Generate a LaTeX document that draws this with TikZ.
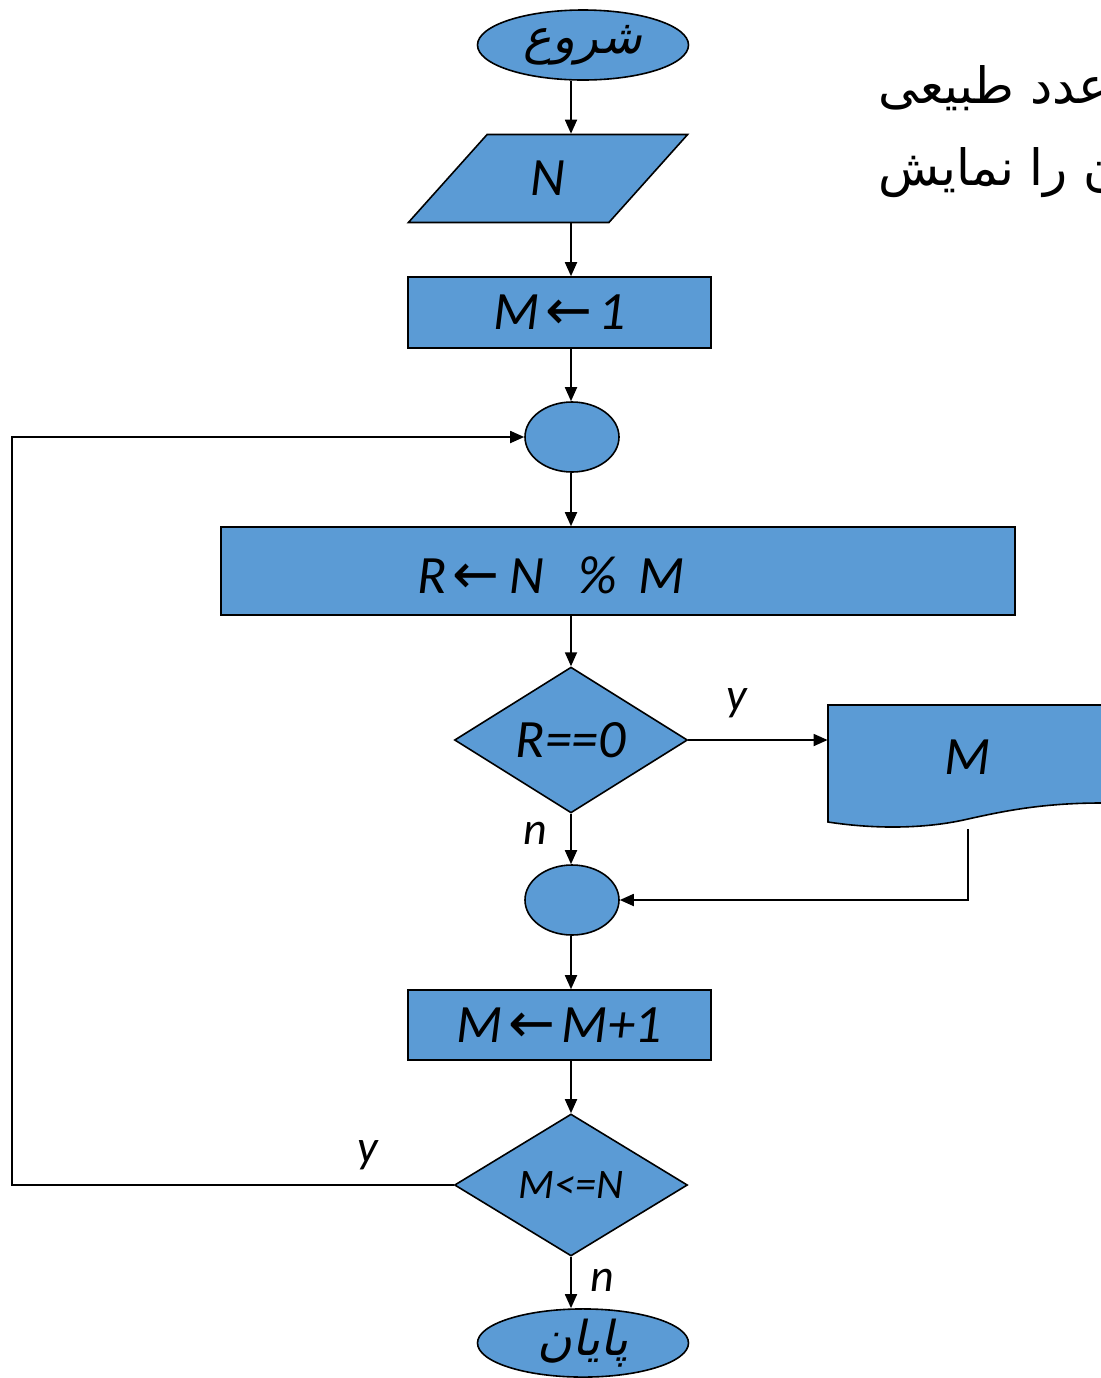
\documentclass[tikz,border=0pt]{standalone}
\usepackage{fontspec}
\setmainfont{Carlito}
\newfontfamily\fa[Script=Arabic]{DejaVu Sans}
\newfontfamily\faslant[Script=Arabic,FakeSlant=0.2]{DejaVu Sans}
\newfontfamily\symf{DejaVu Sans}
\TeXXeTstate=1
\usetikzlibrary{shapes.geometric,arrows.meta}
\definecolor{fc}{HTML}{5B9BD5}
\tikzset{
  blk/.style={draw=black, line width=0.8pt, fill=fc, inner sep=0pt},
  conn/.style={line width=0.9pt, -{Triangle[length=7pt,width=6pt]}},
  lbl/.style={font=\fontsize{27}{30}\selectfont\itshape},
  sml/.style={font=\fontsize{21}{24}\selectfont\itshape},
  yn/.style={font=\fontsize{23}{26}\selectfont\itshape},
  fatxt/.style={font=\fontsize{24}{28}\selectfont\faslant},
  ttl/.style={font=\fontsize{25}{30}\selectfont\fa, anchor=west, inner sep=0pt}
}
\newcommand{\larr}{{\symf\fontsize{28}{30}\selectfont ←}}
\begin{document}
\begin{tikzpicture}[x=0.5pt,y=-0.5pt]
\useasboundingbox (0,0) rectangle (1101,1378);
\coordinate (sp) at (571,0);
% nodes
\node[blk, ellipse, minimum width=105.5pt, minimum height=35pt, fatxt] (start) at (583,45) {\beginR شروع\endR};
\node[blk, trapezium, trapezium left angle=57, trapezium right angle=123, trapezium stretches=true, minimum width=140pt, minimum height=44pt, lbl] (inp) at (548,178.5) {N};
\node[blk, rectangle, minimum width=151.5pt, minimum height=35.5pt, lbl] (r1) at (559.5,312.5) {M\hspace{3pt}\larr\hspace{3pt}1};
\node[blk, ellipse, minimum width=47pt, minimum height=35pt] (c1) at (572,437) {};
\node[blk, rectangle, minimum width=397pt, minimum height=44pt] (r2) at (618,571) {};
\node[lbl] (r2t) at (551,575) {R\hspace{3pt}\larr\hspace{5pt}N\hspace{17pt}\%\hspace{11pt}M};
\node[blk, diamond, minimum width=116.5pt, minimum height=71pt, lbl] (d1) at (571,740) {R==0};
% output (document shape)
\draw[fill=fc, line width=0.8pt] (828,705) -- (1140,705) -- (1140,803) -- (1101,803)
  .. controls (1040,803) and (1000,812) .. (968,819)
  .. controls (930,828) and (880,830) .. (828,822) -- cycle;
\node[lbl, minimum width=140pt, minimum height=58pt, inner sep=0pt] (doc) at (968,757) {M};
\coordinate (docb) at (968,829);
\node[blk, ellipse, minimum width=47pt, minimum height=35pt] (c2) at (572,900) {};
\node[blk, rectangle, minimum width=151.5pt, minimum height=35pt, lbl] (r3) at (559.5,1025) {M\hspace{3pt}\larr\hspace{3pt}M+1};
\node[blk, diamond, minimum width=116.5pt, minimum height=71pt, sml] (d2) at (571,1185) {M<=N};
\node[blk, ellipse, minimum width=105.5pt, minimum height=34pt, fatxt] (end) at (583,1343) {\beginR پایان\endR};
\coordinate (lp) at (12,1185);
% connectors
\draw[conn] (start.south -| sp) -- (inp.north -| sp);
\draw[conn] (inp.south -| sp) -- (r1.north -| sp);
\draw[conn] (r1.south -| sp) -- (c1.north -| sp);
\draw[conn] (c1.south -| sp) -- (r2.north -| sp);
\draw[conn] (r2.south -| sp) -- (d1.north -| sp);
\draw[conn] (d1.east) -- (d1.east -| doc.west);
\draw[conn] (d1.south -| sp) -- (c2.north -| sp);
\draw[conn] (docb) |- (c2.east);
\draw[conn] (c2.south -| sp) -- (r3.north -| sp);
\draw[conn] (r3.south -| sp) -- (d2.north -| sp);
\draw[conn] (d2.west) -- (lp) |- (c1.west);
\draw[conn] (d2.south -| sp) -- (end.north -| sp);
% branch labels
\node[yn] (ly1) at (737,703) {y};
\node[yn] (ln1) at (535,833) {n};
\node[yn] (ly2) at (368,1155) {y};
\node[yn] (ln2) at (602,1280) {n};
% title text (cut by the page edge, as in the reference)
\node[ttl] (t1) at (878,88) {\beginR عدد طبیعی\endR};
\node[ttl] (t2) at (878,168) {\beginR آن را نمایش\endR};
\end{tikzpicture}
\end{document}
